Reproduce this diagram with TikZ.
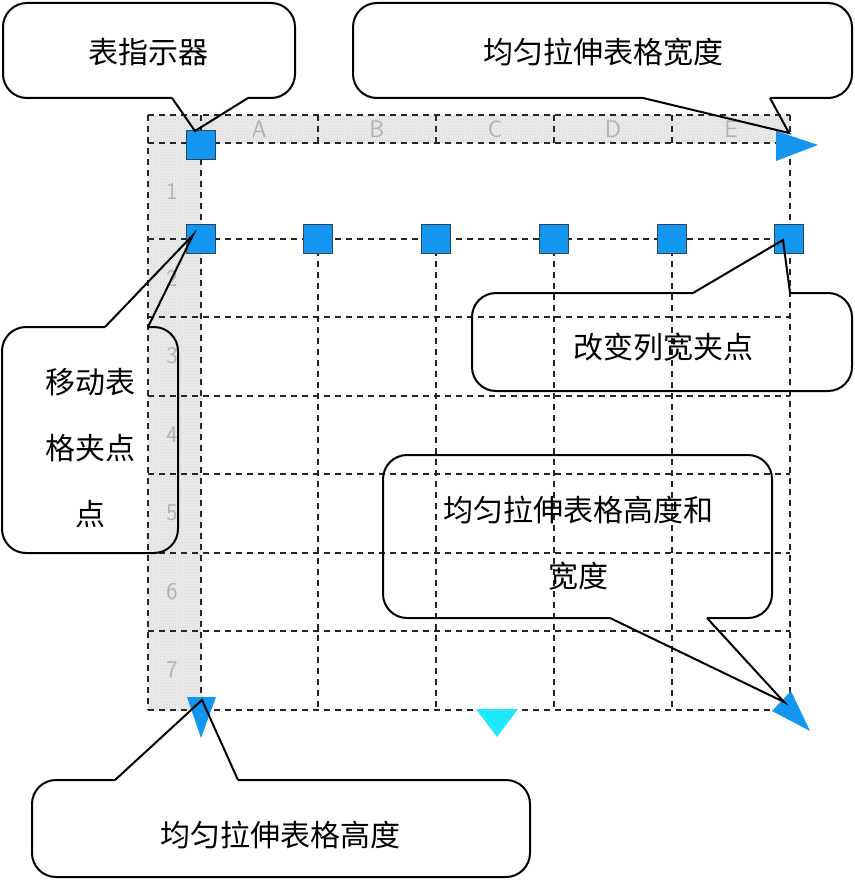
\documentclass[tikz,border=0pt]{standalone}
\usepackage{fontspec}
\newfontfamily\cjk{Noto Sans CJK SC}
\usetikzlibrary{patterns}
\definecolor{gripblue}{RGB}{18,150,240}
\definecolor{gripedge}{RGB}{45,70,95}
\definecolor{cyantri}{RGB}{30,232,250}
\begin{document}
\begin{tikzpicture}[x=1pt,y=-1pt,
  gridline/.style={black!85, line width=1.8pt, dash pattern=on 6pt off 5pt},
  grip/.style={draw=gripedge, line width=1pt, fill=gripblue, minimum size=29pt, inner sep=0pt},
  callout/.style={black, line width=2pt, rounded corners=24pt},
  ptr/.style={black, line width=2pt},
  lbl/.style={font=\cjk\fontsize{30}{36}\selectfont, inner sep=0pt},
  lbltwo/.style={font=\cjk\fontsize{30}{66}\selectfont, inner sep=0pt, align=center},
  hdr/.style={font=\sffamily\fontsize{24}{24}\selectfont, text=black!30, inner sep=0pt}]
\useasboundingbox (0,0) rectangle (854,880);

% shaded header row and header column
\fill[black!8] (148,115) rectangle (790,143);
\fill[black!8] (148,143) rectangle (201,710);
\fill[pattern=crosshatch dots, pattern color=black!18] (148,115) rectangle (790,143);
\fill[pattern=crosshatch dots, pattern color=black!18] (148,143) rectangle (201,710);

% grid
\foreach \y in {115,143,239,317,396,474,553,631,710}
  \draw[gridline] (148,\y) -- (790,\y);
\foreach \x in {148,201,790}
  \draw[gridline] (\x,115) -- (\x,710);
\foreach \x in {318,436,554,672} {
  \draw[gridline] (\x,115) -- (\x,143);
  \draw[gridline] (\x,239) -- (\x,710);
}

% header letters and row numbers
\foreach \t/\x in {A/259,B/377,C/495,D/613,E/731}
  \node[hdr] (col\t) at (\x,129) {\t};
\foreach \t/\y in {1/191,2/278,3/356,4/435,5/513,6/592,7/670}
  \node[hdr] (row\t) at (172,\y) {\t};

% grips
\node[grip] (ind) at (201,145) {};
\node[grip] (g1) at (201,239) {};
\node[grip] (g2) at (318,239) {};
\node[grip] (g3) at (436,239) {};
\node[grip] (g4) at (554,239) {};
\node[grip] (g5) at (672,239) {};
\node[grip] (g6) at (789,239) {};

% triangle grips
\fill[gripblue] (776,131) -- (818,145) -- (776,161) -- cycle;
\fill[gripblue] (187,697) -- (216,697) -- (201,738) -- cycle;
\fill[cyantri] (476,709) -- (518,709) -- (497,737) -- cycle;
\fill[gripblue] (772,711) -- (791,691) -- (810,731) -- cycle;

% pointer tips
\coordinate (tipA) at (195,131);
\coordinate (tipB) at (789,133);
\coordinate (tipC) at (783,240);
\coordinate (tipD) at (193,235);
\coordinate (tipE) at (784,702);
\coordinate (tipF) at (202,700);

% callout 1
\node[lbl] (t1) at (148,52) {表指示器};
\draw[callout] (248,98) -- (295,98) -- (295,3) -- (3,3) -- (3,98) -- (172,98);
\draw[ptr] (172,98) -- (tipA) -- (248,98);

% callout 2
\node[lbl] (t2) at (603,52) {均匀拉伸表格宽度};
\draw[callout] (770,98) -- (852,98) -- (852,3) -- (353,3) -- (353,98) -- (643,98);
\draw[ptr] (643,98) -- (tipB) -- (770,98);

% callout 3
\node[lbl] (t3) at (663,347) {改变列宽夹点};
\draw[callout] (790,293) -- (852,293) -- (852,391) -- (472,391) -- (472,293) -- (693,293);
\draw[ptr] (693,293) -- (tipC) -- (790,293);

% callout 4
\node[lbltwo] (t4) at (90,448) {移动表\\格夹点\\点};
\draw[callout] (148,327) -- (178,327) -- (178,553) -- (2,553) -- (2,327) -- (105,327);
\draw[ptr] (105,327) -- (tipD) -- (148,327);

% callout 5
\node[lbltwo] (t5) at (578,543) {均匀拉伸表格高度和\\宽度};
\draw[callout] (707,618) -- (772,618) -- (772,455) -- (383,455) -- (383,618) -- (610,618);
\draw[ptr] (610,618) -- (tipE) -- (707,618);

% callout 6
\node[lbl] (t6) at (280,835) {均匀拉伸表格高度};
\draw[callout] (238,780) -- (530,780) -- (530,877) -- (32,877) -- (32,780) -- (115,780);
\draw[ptr] (115,780) -- (tipF) -- (238,780);
\end{tikzpicture}
\end{document}
